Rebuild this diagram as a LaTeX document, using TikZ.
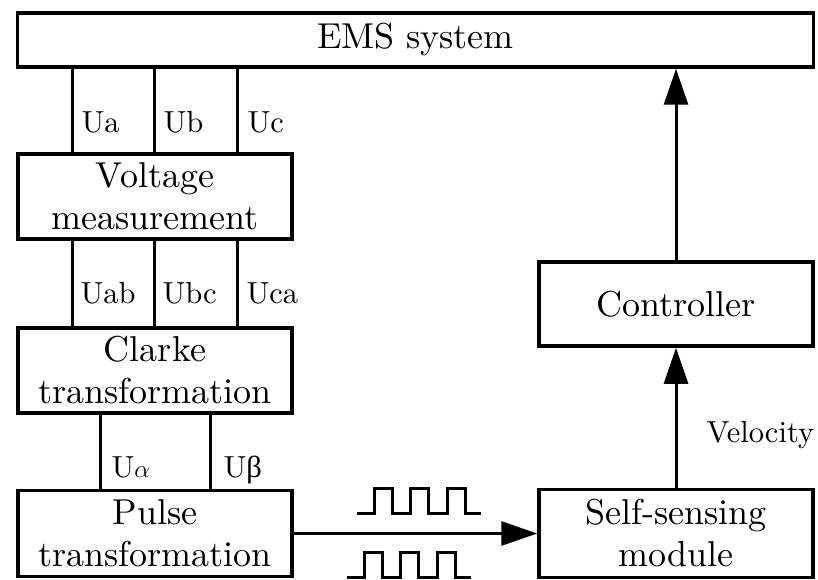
\documentclass[tikz,border=0pt]{standalone}
\usepackage{fontspec}
\setmainfont{lmroman10-regular.otf}
\newfontfamily\greekfont{Liberation Serif}
\usetikzlibrary{arrows.meta}
\tikzset{
  block/.style={draw, line width=3.5pt, minimum width=274pt, inner sep=2pt, align=center, font=\fontsize{36}{42}\selectfont},
  wire/.style={line width=3pt},
  sig/.style={font=\fontsize{30.5}{36}\selectfont, inner sep=0pt, anchor=base west},
  flow/.style={line width=3pt, -{Triangle[length=36pt,width=24pt]}},
  pulsewave/.style={line width=3pt}
}
\begin{document}
\begin{tikzpicture}[x=1pt,y=-1pt]
\useasboundingbox (0,0) rectangle (818,580);
\node[block, minimum width=796pt, minimum height=54pt] (ems) at (415.5,40) {EMS system};
\node[block, minimum height=85pt] (volt) at (155,196.5) {Voltage\\measurement};
\node[block, minimum height=85pt] (clarke) at (155,370.5) {Clarke\\transformation};
\node[block, minimum height=86pt] (pulse) at (155,533.5) {Pulse\\transformation};
\node[block, minimum height=84pt] (ctrl) at (676,304) {Controller};
\node[block, minimum height=88pt] (sense) at (676,533.5) {Self-sensing\\module};

\coordinate (xa) at (72,0);
\coordinate (xb) at (154,0);
\coordinate (xc) at (237,0);
\coordinate (xal) at (100,0);
\coordinate (xbe) at (210,0);

\path[draw,wire] (volt.north -| xa) -- node[sig,pos=0.235,xshift=8pt] (ua) {Ua} (ems.south -| xa);
\path[draw,wire] (volt.north -| xb) -- node[sig,pos=0.235,xshift=8pt] (ub) {Ub} (ems.south -| xb);
\path[draw,wire] (volt.north -| xc) -- node[sig,pos=0.235,xshift=9pt] (uc) {Uc} (ems.south -| xc);

\path[draw,wire] (clarke.north -| xa) -- node[sig,pos=0.264,xshift=7pt] (uab) {Uab} (volt.south -| xa);
\path[draw,wire] (clarke.north -| xb) -- node[sig,pos=0.264,xshift=7pt] (ubc) {Ubc} (volt.south -| xb);
\path[draw,wire] (clarke.north -| xc) -- node[sig,pos=0.264,xshift=8pt] (uca) {Uca} (volt.south -| xc);

\path[draw,wire] (pulse.north -| xal) -- node[sig,pos=0.158,xshift=10pt] (ual) {U$\alpha$} (clarke.south -| xal);
\path[draw,wire] (pulse.north -| xbe) -- node[sig,pos=0.158,xshift=12pt] (ube) {U{\greekfont β}} (clarke.south -| xbe);

\path[draw,flow] (pulse) -- (sense);
\path[draw,flow] (sense.north) -- node[sig,pos=0.32,xshift=29pt] (vel) {Velocity} (ctrl.south);
\path[draw,flow] (ctrl.north) -- (ems.south -| ctrl.north);

% pulse trains above and below the arrow
\draw[pulsewave] (357,513) \foreach \i in {1,2,3} {-- ++(17,0) -- ++(0,-24.5) -- ++(18,0) -- ++(0,24.5) -- ++(1.5,0)} -- ++(14,0);
\draw[pulsewave] (347,577) \foreach \i in {1,2,3} {-- ++(17,0) -- ++(0,-24.5) -- ++(18,0) -- ++(0,24.5) -- ++(1.5,0)} -- ++(14,0);
\end{tikzpicture}
\end{document}
